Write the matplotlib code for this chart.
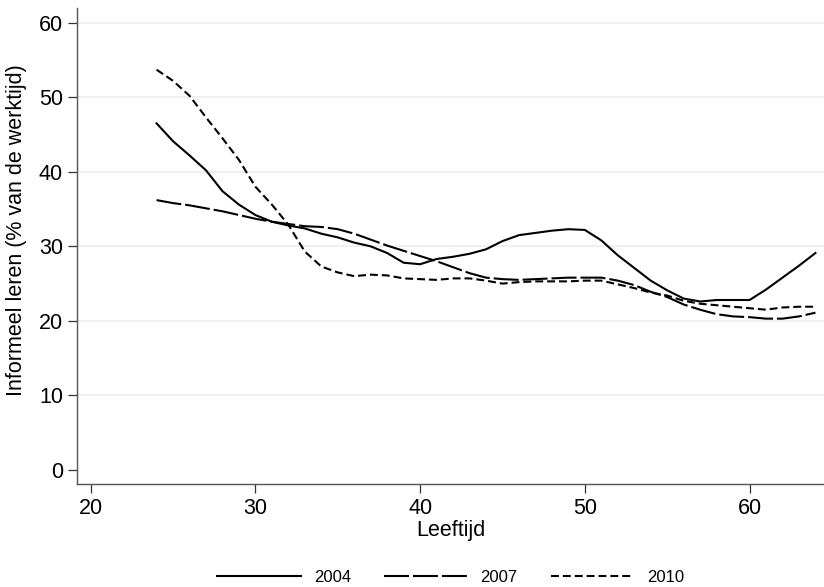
import matplotlib
matplotlib.use("Agg")
import matplotlib.pyplot as plt
import numpy as np

plt.rcParams['font.family'] = ['Liberation Sans', 'DejaVu Sans']

# leeftijd 24..64
ages = list(range(24, 65))

y2004 = [46.5, 44.1, 42.2, 40.2, 37.4, 35.6, 34.2, 33.3, 32.8, 32.4,
         31.7, 31.2, 30.5, 30.0, 29.1, 27.8, 27.6, 28.3, 28.6, 29.0,
         29.6, 30.7, 31.5, 31.8, 32.1, 32.3, 32.2, 30.8, 28.8, 27.1,
         25.4, 24.1, 23.0, 22.6, 22.8, 22.8, 22.8, 24.2, 25.8, 27.4,
         29.1]

y2007 = [36.2, 35.8, 35.5, 35.1, 34.7, 34.2, 33.7, 33.3, 33.0, 32.7,
         32.6, 32.3, 31.7, 30.9, 30.1, 29.4, 28.7, 28.0, 27.2, 26.4,
         25.8, 25.6, 25.5, 25.6, 25.7, 25.8, 25.8, 25.8, 25.4, 24.8,
         23.9, 23.2, 22.2, 21.5, 20.9, 20.6, 20.5, 20.3, 20.3, 20.6,
         21.1]

y2010 = [53.7, 52.2, 50.2, 47.3, 44.5, 41.6, 38.0, 35.6, 32.9, 29.3,
         27.3, 26.5, 26.0, 26.2, 26.1, 25.7, 25.6, 25.5, 25.7, 25.7,
         25.4, 25.0, 25.2, 25.3, 25.3, 25.3, 25.4, 25.4, 24.9, 24.4,
         23.8, 23.4, 22.7, 22.3, 22.1, 21.9, 21.7, 21.5, 21.8, 21.9,
         21.9]

years = ['2004', '2007', '2010']
xticks = [20, 30, 40, 50, 60]
yticks = [0, 10, 20, 30, 40, 50, 60]

fig = plt.figure(figsize=(8.24, 5.87), dpi=100)
ax = fig.add_axes([77/824, 1 - 484/587, 1 - 77/824, (484 - 8)/587])

for t in yticks[1:]:
    ax.axhline(t, color='#e8f0f3', lw=1.2, zorder=0)

ax.plot(ages, y2004, color='black', lw=1.5, label=years[0])
ax.plot(ages, y2007, color='black', lw=1.5, dashes=(12, 1.9), label=years[1])
ax.plot(ages, y2010, color='black', lw=1.5, dashes=(3.8, 1.9), label=years[2])

ax.set_xlim(19.17, 64.52)
ax.set_ylim(-1.88, 61.97)
ax.set_xticks(xticks)
ax.set_yticks(yticks)

for s in ['top', 'right']:
    ax.spines[s].set_visible(False)
for s in ['left', 'bottom']:
    ax.spines[s].set_color('#555555')
    ax.spines[s].set_linewidth(1.0)

ax.tick_params(direction='out', length=6.5, width=0.9, color='#333333',
               labelsize=15.5, pad=3.5)

ax.set_xlabel('Leeftijd', fontsize=15.5, va='top')
ax.xaxis.set_label_coords(0.5, -0.075)
ax.set_ylabel('Informeel leren (% van de werktijd)', fontsize=15.5, va='center')
ax.yaxis.set_label_coords(-(77 - 17) / 747, 0.534)

fig.legend(loc='center', bbox_to_anchor=(451/824, 1 - 577/587), ncol=3,
           frameon=False, fontsize=12, handlelength=5.0, handletextpad=0.78,
           columnspacing=2.0)

fig.savefig('out.png', dpi=100)
